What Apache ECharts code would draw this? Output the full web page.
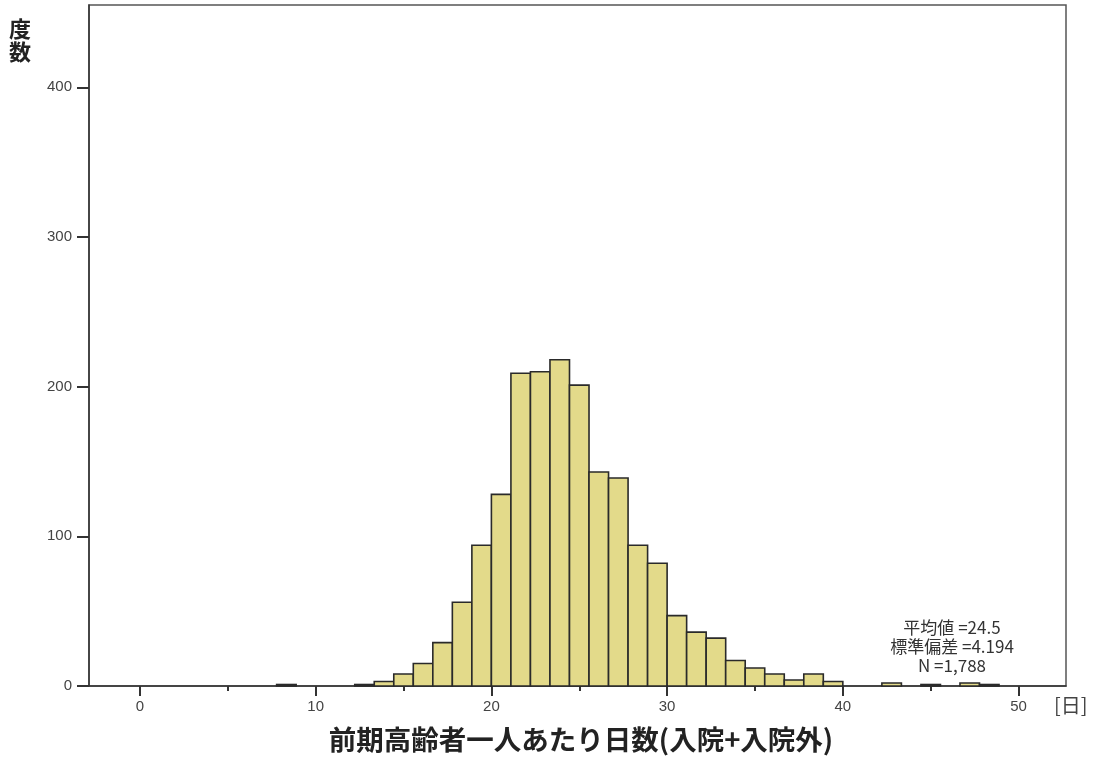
<!DOCTYPE html>
<html>
<head>
<meta charset="utf-8">
<script src="https://cdn.jsdelivr.net/npm/echarts@6/dist/echarts.min.js"></script>
<style>html,body{margin:0;padding:0;background:#fff;}#c{width:1097px;height:758px;}</style>
</head>
<body>
<div id="c"></div>
<script>
// Histogram data (bins start at 0, width 10/9 day)
const binStart = 0;
const binWidth = 10 / 9;
const counts = [0,0,0,0,0,0,0,1,0,0,0,1,3,8,15,29,56,94,128,209,210,218,201,143,139,94,82,47,36,32,17,12,8,4,8,3,0,0,2,0,1,0,2,1,0];
const xTicks = [0,10,20,30,40,50];
const xMinorTicks = [5,15,25,35,45];
const yTicks = [0,100,200,300,400];
const yTitle = '度\n数';
const xTitle = '前期高齢者一人あたり日数(入院+入院外)';
const xUnit = '[日]';
const statsLines = ['平均値 =24.5', '標準偏差 =4.194', 'N =1,788'];

const data = counts.map((c, i) => [binStart + i * binWidth, binStart + (i + 1) * binWidth, c]);

const chart = echarts.init(document.getElementById('c'), null, {renderer: 'canvas'});
const xMin = -2.9, xMax = 52.7, yMax = 455;
const labelFont = {color: '#444', fontSize: 15, fontFamily: 'Liberation Sans, Arial, sans-serif'};

chart.setOption({
  animation: false,
  backgroundColor: '#fff',
  grid: {left: 89, right: 31, top: 5, bottom: 72, show: true, borderColor: '#555', borderWidth: 1.5, backgroundColor: 'transparent'},
  xAxis: [{
    type: 'value', min: xMin, max: xMax, splitLine: {show: false},
    axisLine: {show: true, onZero: false, lineStyle: {color: '#333', width: 1.5}},
    axisTick: {show: true, customValues: xTicks, length: 10, lineStyle: {color: '#333', width: 2}},
    axisLabel: Object.assign({customValues: xTicks, margin: 13}, labelFont)
  }, {
    type: 'value', min: xMin, max: xMax, position: 'bottom', splitLine: {show: false},
    axisLine: {show: false},
    axisTick: {show: true, customValues: xMinorTicks, length: 5, lineStyle: {color: '#333', width: 2}},
    axisLabel: {show: false}
  }],
  yAxis: {
    type: 'value', min: 0, max: yMax, splitLine: {show: false},
    axisLine: {show: true, onZero: false, lineStyle: {color: '#333', width: 1.5}},
    axisTick: {show: true, customValues: yTicks, length: 12, lineStyle: {color: '#333', width: 2}},
    axisLabel: Object.assign({customValues: yTicks, margin: 17}, labelFont)
  },
  series: [{
    type: 'custom',
    xAxisIndex: 0,
    data: data,
    encode: {x: [0, 1], y: 2},
    renderItem: function (params, api) {
      const v = api.value(2);
      if (!v) return null;
      const p0 = api.coord([api.value(0), v]);
      const p1 = api.coord([api.value(1), 0]);
      return {
        type: 'rect',
        shape: {x: p0[0], y: p0[1], width: p1[0] - p0[0], height: p1[1] - p0[1]},
        style: {fill: '#E3DA8A', stroke: '#2a2a2a', lineWidth: 1.6}
      };
    }
  }],
  graphic: [
    {type: 'text', x: 9, y: 17, style: {text: yTitle, font: 'bold 22px "Noto Sans CJK JP"', fill: '#222', lineHeight: 23}},
    {type: 'text', x: 581, y: 740, style: {text: xTitle, font: 'bold 27.5px "Noto Sans CJK JP"', fill: '#222', align: 'center', verticalAlign: 'middle'}},
    {type: 'text', x: 1054, y: 705, style: {text: xUnit, font: '20px "Noto Sans CJK JP"', fill: '#444', verticalAlign: 'middle'}},
    {type: 'text', x: 952, y: 647, style: {text: statsLines.join('\n'), font: '17px "Noto Sans CJK JP"', fill: '#333', align: 'center', verticalAlign: 'middle', lineHeight: 19}}
  ]
});
</script>
</body>
</html>
